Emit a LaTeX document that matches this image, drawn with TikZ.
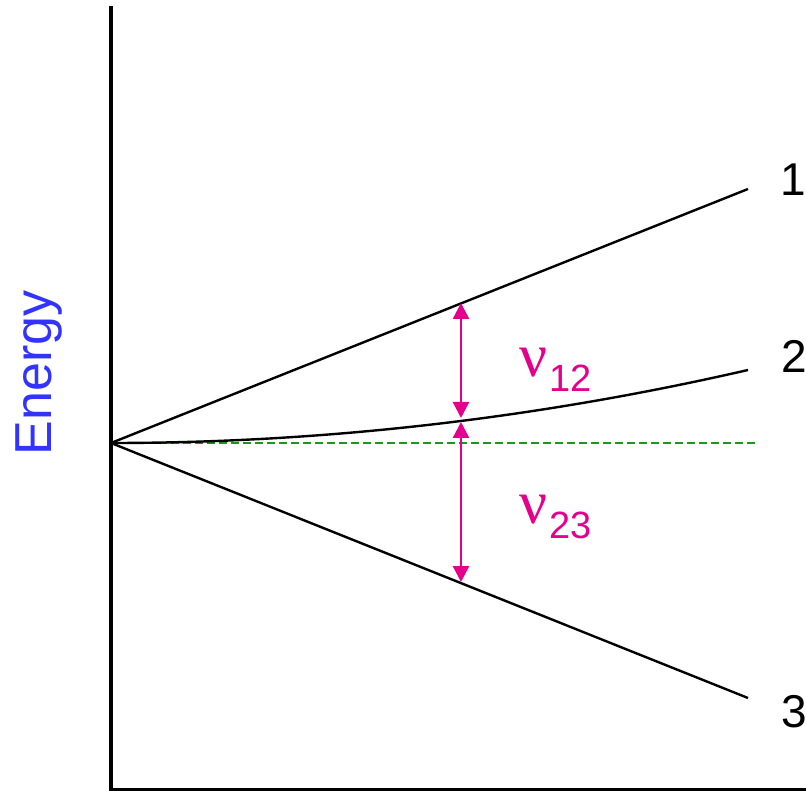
\documentclass[tikz,border=0pt]{standalone}
\usepackage{fontspec}
\setmainfont{Liberation Sans}
\newfontfamily\nufont{Liberation Serif}
\usetikzlibrary{arrows.meta}
\definecolor{nucol}{RGB}{228,0,140}
\definecolor{encol}{RGB}{51,51,255}
\definecolor{dashcol}{RGB}{30,150,30}
\tikzset{
  axisline/.style={line width=4pt, line cap=rect},
  level/.style={line width=2.4pt},
  split/.style={nucol, line width=2.4pt, {Triangle[length=16pt,width=16pt]}-{Triangle[length=16pt,width=16pt]}},
  numlabel/.style={anchor=base west, inner sep=0pt, font=\fontsize{46}{46}\selectfont},
  nulabel/.style={anchor=base west, inner sep=0pt, text=nucol}
}
\newcommand{\bignu}{{\nufont\fontsize{62}{62}\selectfont ν}}
\begin{document}
\begin{tikzpicture}[x=1pt,y=-1pt]
\useasboundingbox (0,0) rectangle (806,791);
% axes
\coordinate (top) at (110.5,8);
\coordinate (corner) at (110.5,790);
\coordinate (right) at (810,790);
\draw[axisline] (top) -- (corner) -- (right);
% origin and ends
\coordinate (O) at (111,443);
\coordinate (E1) at (748,189);
\coordinate (E2) at (748,370);
\coordinate (E3) at (748,698);
\coordinate (Dend) at (756,443);
\draw[dashcol, line width=1.5pt, dash pattern=on 8pt off 4pt] (O) -- (Dend);
\draw[level] (O) -- (E1);
\draw[level] (O) .. controls (323.3,443) and (535.7,418.7) .. (E2);
\draw[level] (O) -- (E3);
% transition arrows
\coordinate (A1) at (461,303);
\coordinate (A2) at (461,418);
\coordinate (A3) at (461,422);
\coordinate (A4) at (461,582);
\draw[split] (A1) -- (A2);
\draw[split] (A3) -- (A4);
% labels
\node[nulabel] (nu12) at (519,377) {\bignu\hspace{2pt}\raisebox{-15pt}{\fontsize{38}{38}\selectfont 12}};
\node[nulabel] (nu23) at (519,523) {\bignu\hspace{2pt}\raisebox{-15pt}{\fontsize{38}{38}\selectfont 23}};
\node[numlabel] (l1) at (780,196) {1};
\node[numlabel] (l2) at (781,373) {2};
\node[numlabel] (l3) at (781,727) {3};
\node[anchor=base, rotate=90, inner sep=0pt, text=encol, font=\fontsize{52}{52}\selectfont] (energy) at (51,373) {Energy};
\end{tikzpicture}
\end{document}
